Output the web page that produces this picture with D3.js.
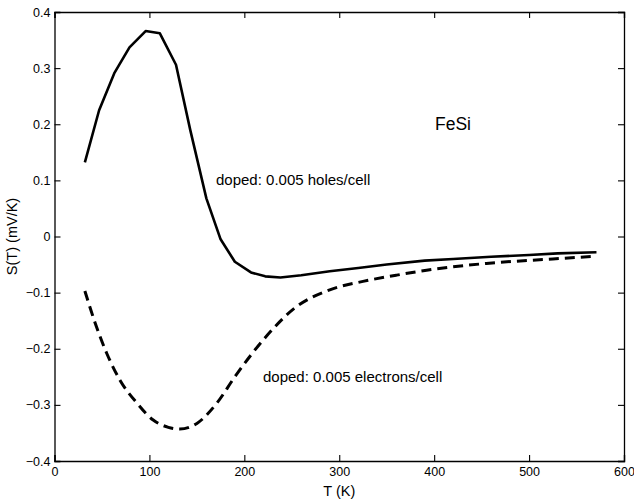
<!DOCTYPE html>
<html>
<head>
<meta charset="utf-8">
<script src="https://cdn.jsdelivr.net/npm/d3@7"></script>
<style>
  body { margin: 0; background: #fff; }
  svg { display: block; font-family: "Liberation Sans", Arial, sans-serif; }
</style>
</head>
<body>
<script>
// Data //////////////////////////////////////////////////////////////

// hole doped curve (solid)
const holesT = [32, 47, 63, 79, 96, 111, 128, 143, 160, 175, 190, 207, 222, 238, 260, 290, 320, 350, 390, 420, 460, 500, 530, 571];
const holesS = [0.132, 0.225, 0.291, 0.337, 0.366, 0.362, 0.306, 0.19, 0.068, -0.005, -0.045, -0.064, -0.071, -0.073, -0.069, -0.062, -0.056, -0.050, -0.043, -0.040, -0.036, -0.033, -0.030, -0.028];

// electron doped curve (dashed)
const elecT = [32, 43, 55, 69, 87, 104, 120, 132, 150, 171, 190, 220, 255, 290, 325, 360, 392, 455, 525, 571];
const elecS = [-0.097, -0.155, -0.208, -0.256, -0.297, -0.327, -0.340, -0.343, -0.333, -0.297, -0.250, -0.184, -0.125, -0.095, -0.080, -0.069, -0.060, -0.048, -0.040, -0.035];

const xTicks = [0, 100, 200, 300, 400, 500, 600];
const yTicks = [-0.4, -0.3, -0.2, -0.1, 0, 0.1, 0.2, 0.3, 0.4];

// Layout ////////////////////////////////////////////////////////////

var W = 634, H = 499;
var margin = {top: 12, right: 10, bottom: 38, left: 54.5};
var width = W - margin.left - margin.right,
    height = H - margin.top - margin.bottom;

var svg = d3.select("body").append("svg")
    .attr("width", W)
    .attr("height", H);

var g = svg.append("g")
    .attr("transform", "translate(" + margin.left + "," + margin.top + ")");

var x = d3.scaleLinear().domain([0, 600]).range([0, width]);
var y = d3.scaleLinear().domain([-0.4, 0.4]).range([height, 0]);

// minus sign like the original
var fmtY = function(d) { return (d < 0 ? "\u2212" : "") + (Math.abs(d) < 1e-9 ? "0" : d3.format("")(Math.abs(d))); };

// axes, ticks pointing inwards on all four sides
var axBottom = g.append("g")
    .attr("transform", "translate(0," + height + ")")
    .call(d3.axisBottom(x).tickValues(xTicks).tickSize(-6).tickPadding(6.5));
var axTop = g.append("g")
    .call(d3.axisTop(x).tickValues(xTicks).tickSize(-6).tickFormat(""));
var axLeft = g.append("g")
    .call(d3.axisLeft(y).tickValues(yTicks).tickSize(-6).tickPadding(4).tickFormat(fmtY));
var axRight = g.append("g")
    .attr("transform", "translate(" + width + ",0)")
    .call(d3.axisRight(y).tickValues(yTicks).tickSize(-6).tickFormat(""));

[axBottom, axTop, axLeft, axRight].forEach(function(a) {
  a.select(".domain").attr("stroke", "#000").attr("stroke-width", 1.3);
  a.selectAll(".tick line").attr("stroke", "#000").attr("stroke-width", 1.1);
  a.selectAll(".tick text").attr("fill", "#000").style("font-size", "12.5px");
});

// axis titles
svg.append("text")
    .attr("x", margin.left + x(300))
    .attr("y", 495.5)
    .attr("text-anchor", "middle")
    .style("font-size", "14.5px")
    .text("T (K)");

svg.append("text")
    .attr("transform", "translate(17," + (margin.top + y(0)) + ") rotate(-90)")
    .attr("text-anchor", "middle")
    .style("font-size", "14.5px")
    .text("S(T) (mV/K)");

// curves
var line = d3.line()
    .x(function(d) { return x(d[0]); })
    .y(function(d) { return y(d[1]); });

var holes = holesT.map(function(t, i) { return [t, holesS[i]]; });
var elec = elecT.map(function(t, i) { return [t, elecS[i]]; });

g.append("path")
    .datum(holes)
    .attr("d", line.curve(d3.curveLinear))
    .attr("fill", "none")
    .attr("stroke", "#000")
    .attr("stroke-width", 2.6)
    .attr("stroke-linejoin", "round");

g.append("path")
    .datum(elec)
    .attr("d", line.curve(d3.curveMonotoneX))
    .attr("fill", "none")
    .attr("stroke", "#000")
    .attr("stroke-width", 3)
    .attr("stroke-dasharray", "10,6");

// annotations
svg.append("text")
    .attr("x", 435).attr("y", 130)
    .style("font-size", "17.5px")
    .text("FeSi");

svg.append("text")
    .attr("x", 216).attr("y", 185)
    .style("font-size", "15px")
    .text("doped: 0.005 holes/cell");

svg.append("text")
    .attr("x", 263).attr("y", 382)
    .style("font-size", "15px")
    .text("doped: 0.005 electrons/cell");
</script>
</body>
</html>
